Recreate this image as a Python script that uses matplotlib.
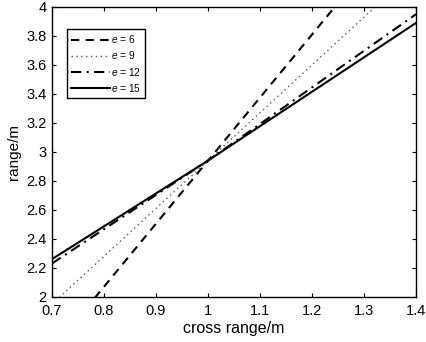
import matplotlib
matplotlib.use("Agg")
import matplotlib.pyplot as plt

plt.rcParams['font.family'] = ['Liberation Sans', 'DejaVu Sans']
plt.rcParams['mathtext.fontset'] = 'custom'
plt.rcParams['mathtext.it'] = 'Liberation Sans:italic'
plt.rcParams['mathtext.rm'] = 'Liberation Sans'

# values (line through three points)
x_pts = [0.7, 1.0, 1.4]
y_e6 = [1.635, 2.94, 4.68]
y_e9 = [1.95, 2.94, 4.26]
y_e12 = [2.23, 2.94, 3.95]
y_e15 = [2.26, 2.94, 3.89]
labels = ['$e$ = 6', '$e$ = 9', '$e$ = 12', '$e$ = 15']
x_ticks = [0.7, 0.8, 0.9, 1.0, 1.1, 1.2, 1.3, 1.4]
x_tick_labels = ['0.7', '0.8', '0.9', '1', '1.1', '1.2', '1.3', '1.4']
y_ticks = [2, 2.2, 2.4, 2.6, 2.8, 3, 3.2, 3.4, 3.6, 3.8, 4]
y_tick_labels = ['2', '2.2', '2.4', '2.6', '2.8', '3', '3.2', '3.4',
                 '3.6', '3.8', '4']


def main() -> None:
    fig = plt.figure(figsize=(4.26, 3.42), dpi=100)
    ax = fig.add_axes([0.122, 0.132, 0.855, 0.848])

    ax.plot(x_pts, y_e6, color='black', lw=1.5, ls=(0, (4, 3)),
            label=labels[0])
    ax.plot(x_pts, y_e9, color='#555555', lw=1.0, ls=(0, (1, 2.5)),
            label=labels[1])
    ax.plot(x_pts, y_e12, color='black', lw=1.5, ls=(0, (5, 2.5, 1, 2.5)),
            label=labels[2])
    ax.plot(x_pts, y_e15, color='black', lw=1.5, label=labels[3])

    ax.set_xlim(0.7, 1.4)
    ax.set_ylim(2, 4)
    ax.set_xticks(x_ticks, x_tick_labels)
    ax.set_yticks(y_ticks, y_tick_labels)
    ax.tick_params(direction='in', top=True, right=True, length=3,
                   labelsize=10.5)
    ax.tick_params(axis='x', pad=5)
    ax.tick_params(axis='y', pad=4)
    for sp in ax.spines.values():
        sp.set_linewidth(1.0)
    ax.set_xlabel('cross range/m', fontsize=11.5, labelpad=2)
    ax.set_ylabel('range/m', fontsize=11, labelpad=4)

    leg = ax.legend(loc='upper left', bbox_to_anchor=(0.04, 0.925),
                    fontsize=7.3, handlelength=3.8, handletextpad=0.1,
                    borderpad=0.45, labelspacing=0.42, fancybox=False,
                    framealpha=1, borderaxespad=0)
    leg.get_frame().set_edgecolor('black')
    leg.get_frame().set_linewidth(1.0)

    fig.savefig('out.png', dpi=100)


if __name__ == "__main__":
    main()
